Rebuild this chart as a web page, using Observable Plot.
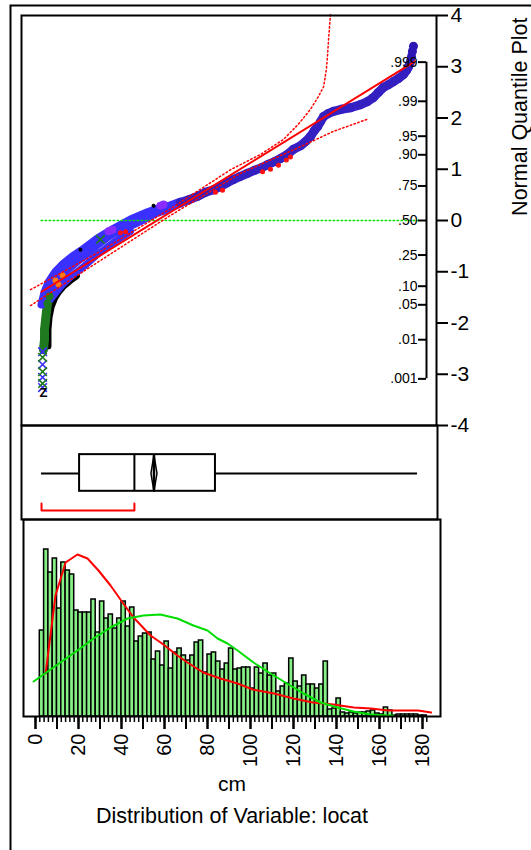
<!DOCTYPE html>
<html><head><meta charset="utf-8">
<script src="https://cdn.jsdelivr.net/npm/d3@7"></script>
<script src="https://cdn.jsdelivr.net/npm/@observablehq/plot@0.6"></script>
<style>
html,body{margin:0;padding:0;background:#fff;}
#wrap{position:relative;width:531px;height:850px;overflow:hidden;background:#fff;}
#wrap svg{position:absolute;left:0;top:0;}
</style></head><body><div id="wrap"></div>
<script>
// ---------- data ----------
const yTicks = [-4, -3, -2, -1, 0, 1, 2, 3, 4];
const probTicks = [
  {z: 3.09, label: ".999"}, {z: 2.326, label: ".99"}, {z: 1.645, label: ".95"},
  {z: 1.282, label: ".90"}, {z: 0.674, label: ".75"}, {z: 0, label: ".50"},
  {z: -0.674, label: ".25"}, {z: -1.282, label: ".10"}, {z: -1.645, label: ".05"},
  {z: -2.326, label: ".01"}, {z: -3.09, label: ".001"}
];
const xTickLabels = [0, 20, 40, 60, 80, 100, 120, 140, 160, 180];

// normal quantile plot points [cm, z]
const qqBlack = [[5.8,-2.45],[5.8,-2.13],[6.3,-1.89],[7.3,-1.68],[8.8,-1.52],[10.6,-1.40],[13.0,-1.28],[15.8,-1.18],[19.0,-1.08]];
const qqGreen = [[3.7,-2.52],[4.2,-2.32],[4.2,-2.13],[4.7,-1.93],[5.1,-1.78],[5.6,-1.62],[6.5,-1.48]];
const qqBlue = [
  [6.5,-1.48],[7.4,-1.37],[8.8,-1.25],[10.7,-1.13],[13.0,-1.01],[15.3,-0.92],[18.1,-0.82],[20.9,-0.72],
  [24.7,-0.60],[28.8,-0.45],[32.6,-0.33],[36.3,-0.23],[40.0,-0.16],[44.2,-0.08],[48.4,0.00],[52.1,0.08],
  [55.8,0.16],[59.5,0.21],[63.7,0.29],[67.4,0.35]
];
const qqUpperEdge = [[2.8,-1.64],[4.2,-1.40],[6.0,-1.21],[9.3,-1.00],[13.0,-0.84],[17.2,-0.70],[21.9,-0.57],[28.8,-0.35],[36.3,-0.16],[44.2,0.02],[52.1,0.16],[60.5,0.29]];
const qqLowerEdge = [[7.0,-1.54],[9.8,-1.39],[13.0,-1.23],[17.2,-1.07],[21.9,-0.92],[28.8,-0.66],[36.3,-0.43],[44.2,-0.21]];
const qqNavy = [
  [67.4,0.35],[71.6,0.41],[75.3,0.47],[79.1,0.55],[82.8,0.60],[86.0,0.66],[89.3,0.74],[92.1,0.80],
  [95.3,0.86],[98.6,0.92],[101.9,0.98],[105.1,1.03],[107.9,1.09],[111.2,1.15],[114.0,1.21],[117.2,1.29],
  [120.0,1.39],[123.3,1.46],[125.6,1.54],[127.9,1.64],[129.8,1.76],[131.2,1.83],[132.6,1.93],[134.0,2.03],
  [136.3,2.09],[138.6,2.13],[142.3,2.17],[146.5,2.20],[151.2,2.26],[154.4,2.32],[157.2,2.40],[159.5,2.50],
  [161.9,2.60],[164.2,2.65],[166.5,2.71],[168.8,2.77],[171.2,2.85],[172.6,2.93],[173.5,3.00],[174.4,3.10]
];
const qqTop = [[174.9,3.20],[175.3,3.30],[175.8,3.40]];
const qqPurple = [[34.0,-0.21],[35.8,-0.18],[58.1,0.29],[59.5,0.31]];
const qqOrange = [[9.3,-1.17],[12.6,-1.07],[10.7,-1.25]];
const qqRed = [[39.5,-0.24],[41.9,-0.22],[83.7,0.55],[87.0,0.59],[105.6,0.95],[109.3,1.00],[113.0,1.08],[116.7,1.18],[118.6,1.24]];
const qqBlackDots = [[20.9,-0.57],[54.9,0.29]];
const qqBlueX = [[3.3,-2.56],[3.3,-2.81],[3.3,-3.06],[3.3,-3.26]];
const qqGreenX = [[3.3,-2.67],[3.3,-2.95],[3.3,-3.18],[30.2,-0.37]];
const qqZ = [[3.7,-3.36,"Z"]];
const fitLine = [[2.8,-1.39],[176.3,3.10]];
const ciUpper = [[-2.3,-1.35],[30.2,-0.60],[62.8,0.23],[90.7,0.99],[104.7,1.29],[115.3,1.58],[122.3,1.88],[127.9,2.17],[131.6,2.42],[134.0,2.61],[135.3,2.95],[135.8,3.20],[136.3,3.53],[137.2,4.02]];
const ciLower = [[-2.3,-1.66],[30.2,-0.78],[62.8,0.10],[95.3,0.92],[123.3,1.44],[138.6,1.74],[154.0,1.97]];
const medianRef = [[2.6,0],[179,0]];

// box plot statistics (cm)
const boxStats = {min: 2.8, q1: 20.5, median: 46.0, mean: 55.1, q3: 83.7, max: 177.7};
const shortestHalf = [2.8, 46.0];

// histogram
const binStart = 2, binWidth = 2;
const histCounts = [86,167,144,158,108,154,146,142,106,104,104,104,117,84,115,98,102,88,98,115,
  90,109,75,80,83,84,57,65,51,75,48,64,68,61,56,61,74,76,44,62,64,55,47,53,68,47,48,49,49,28,
  49,43,53,41,43,25,30,33,58,35,30,41,32,32,28,32,55,7,8,18,4,3,4,3,4,4,5,6,3,2,9,6,1,2,2,2,2,2,1,1];
const kernelCurve = [[4.7,43],[9.3,121],[14,154],[19.5,162],[24.2,158],[29.3,146],[34.9,131],[40.5,114],[45.6,99],[53.5,81],[59.5,72],[66,61],[70.7,54],[78,44],[86,38],[94,33],[101,27],[111,23],[120,18],[129,14],[138.6,12],[148,9],[156,8],[164,6],[171,6],[178,6],[184,4]];
const normalCurve = [[-0.9,35],[3.7,42],[11.6,54],[19.5,66],[27,78],[34.9,89],[42.8,98],[50.2,101],[58,102],[66,98],[73.5,91],[80,86],[84.7,78],[89.3,73],[94,66],[101.4,54],[109.3,43],[117,33],[124.7,23],[132.6,14],[140.5,9],[148,5],[155.8,2],[163.7,1],[166.5,1]];

const xTitle = "cm";
const chartTitle = "Distribution of Variable: locat";
const yTitle = "Normal Quantile Plot";

// ---------- layout ----------
const W = 531, H = 850;
const FONT = '"Liberation Sans", Arial, Helvetica, sans-serif';
const style = {background: "transparent", maxWidth: "none", overflow: "visible", fontFamily: FONT};
const xs = {domain: [0, 180], range: [35, 422]};
const wrap = document.getElementById("wrap");
const P = a => ({cm: a[0], z: a[1]});

// outer frame
wrap.append(Plot.plot({
  width: 545, height: 865, marginTop: 5, marginLeft: 10, marginRight: 0, marginBottom: 0,
  style, x: {domain: [0, 1], axis: null}, y: {domain: [0, 1], axis: null},
  marks: [Plot.frame({stroke: "black", strokeWidth: 2})]
}));

// QQ panel
const dot = (arr, fill, r) => Plot.dot(arr.map(P), {x: "cm", y: "z", fill, r, stroke: "none"});
const band = (arr, stroke, w) => Plot.line(arr.map(P), {x: "cm", y: "z", stroke, strokeWidth: w, strokeLinecap: "round", strokeLinejoin: "round"});
wrap.append(Plot.plot({
  width: W, height: H, marginTop: 15, marginBottom: H - 425, marginLeft: 21, marginRight: W - 436,
  style, x: {...xs, axis: null}, y: {domain: [-4, 4]},
  marks: [
    band(qqBlack, "black", 7),
    band(qqGreen, "#1f7a1f", 9),
    band(qqUpperEdge, "#3a30ff", 8),
    band(qqLowerEdge, "#3a30ff", 7),
    band(qqBlue, "#3a30ff", 10),
    band(qqNavy, "#3822cc", 9),
    dot(qqNavy, "#3420c0", 4.5),
    dot(qqTop, "#2c16b4", 4.5),
    dot(qqGreen, "#1f7a1f", 4),
    dot(qqPurple, "#8a2cff", 4),
    dot(qqOrange, "#ff7a10", 3),
    dot(qqRed, "#ff1010", 2.5),
    dot(qqBlackDots, "black", 2),
    Plot.dot(qqBlueX.map(P), {x: "cm", y: "z", symbol: "times", stroke: "#3a30ff", r: 4, strokeWidth: 1.6}),
    Plot.dot(qqGreenX.map(P), {x: "cm", y: "z", symbol: "times", stroke: "#1f7a1f", r: 4, strokeWidth: 1.6}),
    Plot.text(qqZ, {x: d => d[0], y: d => d[1], text: d => d[2], fontSize: 13, fontWeight: "bold"}),
    Plot.line(medianRef.map(P), {x: "cm", y: "z", stroke: "#00e000", strokeWidth: 1.5, strokeDasharray: "1.5,2.5"}),
    Plot.line(ciUpper.map(P), {x: "cm", y: "z", stroke: "red", strokeWidth: 1.5, strokeDasharray: "1.5,2.5"}),
    Plot.line(ciLower.map(P), {x: "cm", y: "z", stroke: "red", strokeWidth: 1.5, strokeDasharray: "1.5,2.5"}),
    Plot.line(fitLine.map(P), {x: "cm", y: "z", stroke: "red", strokeWidth: 2}),
    Plot.frame({stroke: "black", strokeWidth: 2}),
    Plot.axisY(yTicks, {anchor: "right", tickSize: 11, tickPadding: 3, fontSize: 21, label: null, tickFormat: d => String(d), strokeWidth: 2}),
    Plot.text([yTitle], {frameAnchor: "top-right", dx: 75, dy: 2, rotate: -90, textAnchor: "end", fontSize: 21.5})
  ]
}));

// probability axis overlay
const probLabel = new Map(probTicks.map(d => [d.z, d.label]));
const probZ = probTicks.map(d => d.z);
wrap.append(Plot.plot({
  width: W, height: H, marginTop: 15, marginBottom: H - 425, marginLeft: 426, marginRight: 0,
  style, x: {domain: [0, 1], axis: null}, y: {domain: [-4, 4]},
  marks: [
    Plot.ruleX([0], {y1: d3.min(probZ), y2: d3.max(probZ), stroke: "black", strokeWidth: 2}),
    Plot.axisY(probZ, {anchor: "left", tickSize: 8, tickPadding: 1, fontSize: 14, label: null, tickFormat: d => probLabel.get(d), strokeWidth: 2})
  ]
}));

// box plot panel
const yMid = 0.49, yTop = 0.69, yBot = 0.30, yBr = 0.096, yBrTop = 0.17;
const b = boxStats;
const diamond = [[b.mean - 1.4, yMid], [b.mean, yTop], [b.mean + 1.4, yMid], [b.mean, yBot], [b.mean - 1.4, yMid]];
const bracket = [[shortestHalf[0], yBrTop], [shortestHalf[0], yBr], [shortestHalf[1], yBr], [shortestHalf[1], yBrTop]];
wrap.append(Plot.plot({
  width: W, height: H, marginTop: 425, marginBottom: H - 519, marginLeft: 21, marginRight: W - 437,
  style, x: {...xs, axis: null}, y: {domain: [0, 1], axis: null},
  marks: [
    Plot.ruleY([yMid], {x1: b.min, x2: b.q1, stroke: "black", strokeWidth: 2}),
    Plot.ruleY([yMid], {x1: b.q3, x2: b.max, stroke: "black", strokeWidth: 2}),
    Plot.rect([b], {x1: "q1", x2: "q3", y1: yBot, y2: yTop, fill: "none", stroke: "black", strokeWidth: 2}),
    Plot.ruleX([b.median], {y1: yBot, y2: yTop, stroke: "black", strokeWidth: 2}),
    Plot.ruleX([b.mean], {y1: yBot, y2: yTop, stroke: "black", strokeWidth: 2.5}),
    Plot.line(diamond, {x: d => d[0], y: d => d[1], stroke: "black", strokeWidth: 1.5}),
    Plot.line(bracket, {x: d => d[0], y: d => d[1], stroke: "red", strokeWidth: 2}),
    Plot.frame({stroke: "black", strokeWidth: 2})
  ]
}));

// histogram panel
const bins = histCounts.map((c, i) => ({x1: binStart + i * binWidth, x2: binStart + (i + 1) * binWidth, count: c}));
const minorTicks = d3.range(0, 184, 2);
const majorTicks = d3.range(0, 190, 10);
wrap.append(Plot.plot({
  width: W, height: H, marginTop: 519, marginBottom: H - 716, marginLeft: 23, marginRight: W - 440,
  style, x: {...xs}, y: {domain: [0, 197], axis: null},
  marks: [
    Plot.rectY(bins, {x1: "x1", x2: "x2", y: "count", fill: "#86f086", stroke: "black", strokeWidth: 1.5}),
    Plot.line(kernelCurve, {x: d => d[0], y: d => d[1], stroke: "#ff0000", strokeWidth: 2}),
    Plot.line(normalCurve, {x: d => d[0], y: d => d[1], stroke: "#00dd00", strokeWidth: 2}),
    Plot.frame({stroke: "black", strokeWidth: 2}),
    Plot.axisX(minorTicks, {anchor: "bottom", tickSize: 6, tickFormat: () => "", label: null, strokeWidth: 1.5}),
    Plot.axisX(majorTicks, {anchor: "bottom", tickSize: 13, tickFormat: () => "", label: null, strokeWidth: 2}),
    Plot.axisX(xTickLabels, {anchor: "bottom", tickSize: 13, tickPadding: 4, tickRotate: -90, textAnchor: "end", fontSize: 20, label: null, tickFormat: d => String(d), strokeWidth: 2}),
    Plot.text([xTitle], {frameAnchor: "bottom", dy: 74, fontSize: 21}),
    Plot.text([chartTitle], {frameAnchor: "bottom", dy: 106, fontSize: 21.5})
  ]
}));
</script></body></html>
